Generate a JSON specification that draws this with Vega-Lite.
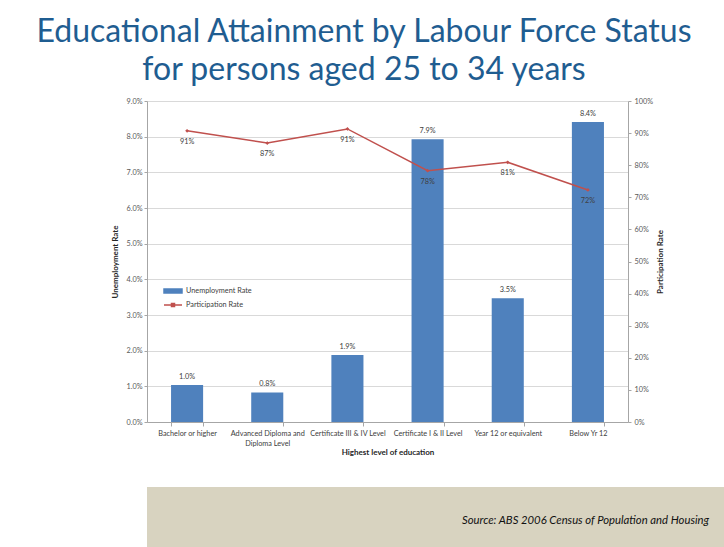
{
  "$schema": "https://vega.github.io/schema/vega-lite/v6.json",
  "background": "white",
  "padding": {"left": 35, "top": 16, "right": 0, "bottom": 0},
  "title": {
    "text": ["Educational Attainment by Labour Force Status", "for persons aged 25 to 34 years"],
    "font": "Lato", "fontSize": 32, "fontWeight": "normal", "color": "#1F5D91",
    "lineHeight": 38, "anchor": "middle", "dx": -53.5, "offset": 10
  },
  "spacing": 30,
  "vconcat": [
    {
      "width": 481,
      "height": 321,
      "data": {
        "values": [
          {"level": "Bachelor or higher", "unemp": 0.0104, "part": 0.907},
          {"level": "Advanced Diploma and Diploma Level", "unemp": 0.0083, "part": 0.869},
          {"level": "Certificate III & IV Level", "unemp": 0.0188, "part": 0.913},
          {"level": "Certificate I & II Level", "unemp": 0.0793, "part": 0.783},
          {"level": "Year 12 or equivalent", "unemp": 0.0347, "part": 0.809},
          {"level": "Below Yr 12", "unemp": 0.0841, "part": 0.723}
        ]
      },
      "encoding": {
        "x": {
          "field": "level", "type": "nominal", "sort": null,
          "scale": {"paddingInner": 0.6, "paddingOuter": 0.3},
          "axis": {
            "title": "Highest level of education", "labelAngle": 0, "tickBand": "extent",
            "labelExpr": "datum.label == 'Advanced Diploma and Diploma Level' ? ['Advanced Diploma and', 'Diploma Level'] : datum.label",
            "labelColor": "#404040", "labelOverlap": false, "tickSize": 4, "labelPadding": 3,
            "titlePadding": 2, "labelLineHeight": 10, "grid": false
          }
        }
      },
      "layer": [
        {
          "encoding": {
            "y": {
              "field": "unemp", "type": "quantitative",
              "scale": {"domain": [0, 0.09], "nice": false, "zero": true},
              "axis": {
                "orient": "left", "title": "Unemployment Rate", "format": ".1%",
                "values": [0, 0.01, 0.02, 0.03, 0.04, 0.05, 0.06, 0.07, 0.08, 0.09],
                "grid": true, "tickSize": 3, "labelPadding": 2, "titlePadding": 6,
                "minExtent": 22, "maxExtent": 22
              }
            }
          },
          "layer": [
            {
              "mark": {"type": "bar"},
              "encoding": {
                "color": {
                  "datum": "Unemployment Rate", "type": "nominal",
                  "scale": {"domain": ["Unemployment Rate", "Participation Rate"], "range": ["#4F81BD", "#C0504D"]},
                  "legend": {
                    "orient": "none", "legendX": 20, "legendY": 184, "title": null,
                    "labelFont": "Lato", "labelFontSize": 7.3, "labelColor": "#404040",
                    "symbolSize": 100, "rowPadding": 3, "labelOffset": 7, "padding": 0,
                    "encode": {
                      "symbols": {
                        "update": {
                          "shape": {"signal": "datum.value == 'Unemployment Rate' ? 'M-1.8,-0.4H1.8V0.4H-1.8Z' : 'M-1.8,0H1.8M-0.3,-0.3H0.3V0.3H-0.3Z'"},
                          "fill": {"signal": "datum.value == 'Unemployment Rate' ? '#4F81BD' : '#C0504D'"},
                          "stroke": {"signal": "datum.value == 'Unemployment Rate' ? 'transparent' : '#C0504D'"},
                          "strokeWidth": {"value": 1.5},
                          "opacity": {"value": 1}
                        }
                      }
                    }
                  }
                }
              }
            },
            {
              "mark": {"type": "text", "baseline": "bottom", "dy": -4, "font": "Lato", "fontSize": 7.3, "color": "#404040"},
              "encoding": {"text": {"field": "unemp", "format": ".1%"}}
            }
          ]
        },
        {
          "encoding": {
            "y": {
              "field": "part", "type": "quantitative",
              "scale": {"domain": [0, 1], "nice": false, "zero": true},
              "axis": {
                "orient": "right", "title": "Participation Rate", "format": ".0%",
                "values": [0, 0.1, 0.2, 0.3, 0.4, 0.5, 0.6, 0.7, 0.8, 0.9, 1],
                "grid": false, "tickSize": 3, "labelPadding": 3, "titlePadding": 4,
                "titleAngle": 270, "titleBaseline": "top"
              }
            }
          },
          "layer": [
            {
              "mark": {"type": "line", "strokeWidth": 1.5, "point": {"filled": true, "size": 14, "shape": "diamond"}},
              "encoding": {"color": {"datum": "Participation Rate", "type": "nominal"}}
            },
            {
              "mark": {"type": "text", "baseline": "top", "dy": 7, "font": "Lato", "fontSize": 7.3, "color": "#404040"},
              "encoding": {"text": {"field": "part", "format": ".0%"}}
            }
          ]
        }
      ],
      "resolve": {"scale": {"y": "independent"}, "axis": {"y": "independent"}}
    },
    {
      "width": 577,
      "height": 60,
      "view": {"fill": "#D8D3C0", "stroke": null},
      "data": {"values": [{"note": "Source: ABS 2006 Census of Population and Housing"}]},
      "mark": {"type": "text", "align": "right", "baseline": "middle", "font": "Lato", "fontStyle": "italic", "fontSize": 11.3, "color": "#111111", "dx": -15, "dy": 4},
      "encoding": {
        "text": {"field": "note"},
        "x": {"field": "note", "type": "nominal", "scale": {"type": "point", "padding": 0, "align": 1}, "axis": null},
        "y": {"field": "note", "type": "nominal", "axis": null}
      }
    }
  ],
  "config": {
    "view": {"stroke": null},
    "font": "Lato",
    "axis": {
      "labelFont": "Lato", "labelFontSize": 7.3, "labelColor": "#595959",
      "titleFont": "Lato", "titleFontSize": 8, "titleFontWeight": "bold", "titleColor": "#262626",
      "domainColor": "#A6A6A6", "tickColor": "#A6A6A6", "gridColor": "#D9D9D9"
    }
  }
}
